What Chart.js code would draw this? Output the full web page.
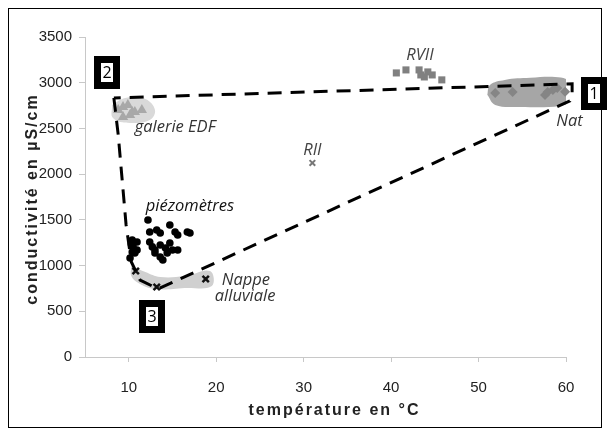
<!DOCTYPE html>
<html>
<head>
<meta charset="utf-8">
<script src="https://cdn.jsdelivr.net/npm/chart.js@4/dist/chart.umd.min.js"></script>
<style>
	html, body { margin: 0; padding: 0; background: #fff; }
	#wrap { position: relative; width: 608px; height: 435px; }
	#frame { position: absolute; left: 8px; top: 8px; width: 594px; height: 420px; border: 1px solid #000; box-sizing: border-box; pointer-events: none; }
</style>
</head>
<body>
<div id="wrap">
	<canvas id="chart" width="608" height="435"></canvas>
	<div id="frame"></div>
</div>
<script>
// measured points : temperature (°C) / conductivity (µS/cm)
var rviiT = [40.6, 41.7, 43.2, 43.4, 43.8, 44.2, 44.7, 45.8];
var rviiC = [3107, 3140, 3140, 3085, 3063, 3118, 3085, 3031];

var natT = [51.9, 53.9, 57.6, 57.9, 58.5, 59.0, 59.9];
var natC = [2888, 2899, 2866, 2899, 2921, 2943, 2900];

var edfT = [8.8, 9.35, 9.9, 10.4, 10.7, 11.5, 9.35, 10.15];
var edfC = [2702, 2735, 2757, 2680, 2680, 2702, 2626, 2648];

var piezoT = [12.2, 12.4, 13.2, 13.6, 14.7, 15.3, 15.6, 16.7, 17.0, 12.4, 12.7, 13.0, 13.6, 14.2, 14.7, 15.0, 15.6, 14.4, 13.9, 13.6, 13.0, 10.4, 10.95, 10.5, 10.4, 10.7, 10.15, 10.95, 10.3];
var piezoC = [1499, 1368, 1389, 1357, 1444, 1368, 1335, 1368, 1357, 1258, 1204, 1171, 1225, 1193, 1247, 1171, 1171, 1138, 1061, 1094, 1138, 1280, 1258, 1204, 1149, 1138, 1083, 1171, 1236];

var nappeT = [10.8, 13.2, 18.8];
var nappeC = [941, 766, 853];

var riiT = [31.0];
var riiC = [2122];

// hand drawn zones and mixing triangle
var natZoneT = [51.0, 51.3, 53.0, 55.9, 58.75, 60.2, 61.0, 60.8, 59.3, 54.7, 51.9, 51.0];
var natZoneC = [2867, 2976, 3031, 3053, 3063, 3031, 2943, 2812, 2746, 2735, 2757, 2867];

var edfZoneT = [8.1, 9.6, 11.9, 13.0, 12.4, 10.15, 8.2, 8.1];
var edfZoneC = [2757, 2834, 2823, 2702, 2593, 2560, 2615, 2757];

var nappeZoneT = [10.3, 11.9, 13.6, 16.4, 19.3, 19.5, 16.4, 13.0, 11.1, 10.3, 10.3];
var nappeZoneC = [996, 930, 875, 886, 941, 777, 755, 744, 810, 886, 996];

var triT = [8.3, 8.8, 9.7, 10.3, 11.3, 13.35, 60.45, 60.7, 60.7, 8.3];
var triC = [2834, 2429, 1444, 1039, 842, 744, 2801, 2867, 2987, 2834];

var xTicks = [10, 20, 30, 40, 50, 60];

function pts(t, c) {
	return t.map(function(v, i){ return {x : v, y : c[i]}; });
}

var notes = [
	{text : 'RVII', t : 43.3, c : 3304, color : '#444'},
	{text : 'Nat', t : 60.4, c : 2582, color : '#333'},
	{text : 'galerie EDF', t : 15.3, c : 2516, color : '#333'},
	{text : 'RII', t : 31.0, c : 2265, color : '#444'},
	{text : 'piézomètres', t : 17.0, c : 1652, color : '#111'},
	{text : 'Nappe', t : 23.4, c : 842, color : '#333'},
	{text : 'alluviale', t : 23.3, c : 667, color : '#333'}
];
var boxes = [
	{text : '1', t : 63.2, c : 2888},
	{text : '2', t : 7.5, c : 3118},
	{text : '3', t : 12.65, c : 449}
];

var notesPlugin = {
	id : 'notes',
	afterDatasetsDraw : function(chart) {
		var ctx = chart.ctx, x = chart.scales.x, y = chart.scales.y;
		ctx.save();
		ctx.textAlign = 'center';
		ctx.textBaseline = 'middle';
		notes.forEach(function(n){
			ctx.font = 'italic 16.5px "Open Sans"';
			ctx.fillStyle = n.color;
			ctx.fillText(n.text, x.getPixelForValue(n.t), y.getPixelForValue(n.c));
		});
		boxes.forEach(function(b){
			var px = Math.round(x.getPixelForValue(b.t)), py = Math.round(y.getPixelForValue(b.c));
			ctx.fillStyle = '#000';
			ctx.fillRect(px - 13, py - 16, 26, 33);
			ctx.fillStyle = '#fff';
			ctx.fillRect(px - 6, py - 9, 12, 19);
			ctx.fillStyle = '#000';
			ctx.font = '16px "Open Sans"';
			ctx.fillText(b.text, px, py + 1);
		});
		ctx.restore();
	},
	afterDraw : function(chart) {
		// axis titles, drawn here to get the wide letter spacing of the original
		var ctx = chart.ctx, a = chart.chartArea;
		ctx.save();
		ctx.fillStyle = '#222';
		ctx.font = 'bold 16px "Liberation Sans"';
		ctx.letterSpacing = '2px';
		ctx.textAlign = 'center';
		ctx.textBaseline = 'middle';
		ctx.fillText('température en °C', (a.left + a.right) / 2 + 9, 411);
		ctx.translate(33, (a.top + a.bottom) / 2 + 2);
		ctx.rotate(-Math.PI / 2);
		ctx.fillText('conductivité en µS/cm', 0, 0);
		ctx.restore();
	}
};

var zone = function(t, c, color) {
	return {
		type : 'line',
		data : pts(t, c),
		borderWidth : 0,
		borderColor : color,
		backgroundColor : color,
		fill : 'shape',
		tension : 0.4,
		pointRadius : 0,
		clip : false,
		order : 3
	};
};

new Chart('chart', {
	type : 'scatter',
	data : {
		datasets : [
			{
				type : 'line',
				data : pts(triT, triC),
				borderColor : '#000',
				borderWidth : 3,
				borderDash : [14, 9],
				fill : false,
				tension : 0,
				pointRadius : 0,
				clip : false,
				order : 0
			},
			{ data : pts(rviiT, rviiC), pointStyle : 'rect', radius : 5, backgroundColor : '#808080', borderWidth : 0, order : 1 },
			{ data : pts(natT, natC), pointStyle : 'rectRot', radius : 5, backgroundColor : '#858585', borderWidth : 0, clip : false, order : 1 },
			{ data : pts(edfT, edfC), pointStyle : 'triangle', radius : 6, backgroundColor : '#a8a8a8', borderWidth : 0, order : 1 },
			{ data : pts(piezoT, piezoC), pointStyle : 'circle', radius : 3.8, backgroundColor : '#000', borderWidth : 0, order : 1 },
			{ data : pts(nappeT, nappeC), pointStyle : 'crossRot', radius : 4.5, borderColor : '#111', borderWidth : 2.5, order : 1 },
			{ data : pts(riiT, riiC), pointStyle : 'crossRot', radius : 4, borderColor : '#777', borderWidth : 2, order : 1 },
			zone(natZoneT, natZoneC, '#a6a6a6'),
			zone(edfZoneT, edfZoneC, '#d9d9d9'),
			zone(nappeZoneT, nappeZoneC, '#d0d0d0')
		]
	},
	options : {
		responsive : false,
		animation : false,
		layout : { padding : { left : 8, right : 42, top : 37, bottom : 8 } },
		plugins : { legend : { display : false }, tooltip : { enabled : false } },
		scales : {
			x : {
				type : 'linear',
				min : 5,
				max : 60,
				afterFit : function(s){ s.height = 70; },
				afterBuildTicks : function(s){ s.ticks = xTicks.map(function(v){ return {value : v}; }); },
				grid : { drawOnChartArea : false, drawTicks : true, tickLength : 5, color : '#c8c8c8' },
				border : { color : '#c8c8c8' },
				ticks : { padding : 17, color : '#222', font : { family : '"Liberation Sans"', size : 15 } },
				title : { display : false }
			},
			y : {
				min : 0,
				max : 3500,
				afterFit : function(s){ s.width = 77; },
				grid : { drawOnChartArea : false, drawTicks : true, tickLength : 6, color : '#c8c8c8' },
				border : { color : '#c8c8c8' },
				ticks : {
					stepSize : 500,
					padding : 7,
					color : '#222',
					font : { family : '"Liberation Sans"', size : 15 },
					callback : function(v){ return String(v); }
				},
				title : { display : false }
			}
		}
	},
	plugins : [notesPlugin]
});
</script>
</body>
</html>
